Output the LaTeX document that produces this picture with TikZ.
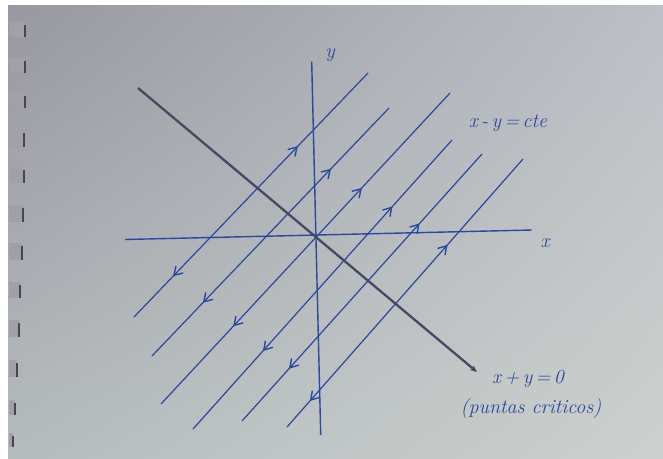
\documentclass[tikz,border=0pt]{standalone}
\usetikzlibrary{arrows.meta,decorations.markings,shadings}
\definecolor{ink}{RGB}{42,72,158}
\definecolor{darkink}{RGB}{72,72,100}
\definecolor{paperA}{RGB}{152,152,160}
\definecolor{paperB}{RGB}{188,192,198}
\definecolor{paperC}{RGB}{182,188,190}
\definecolor{paperD}{RGB}{204,209,206}
\definecolor{ringc}{RGB}{160,160,166}
\definecolor{ringedge}{RGB}{70,70,78}
\begin{document}
\begin{tikzpicture}[x=1pt,y=-1pt,
  trajline/.style={draw=ink,line width=1.2pt},
  axisline/.style={draw=ink,line width=1.4pt},
  critline/.style={draw=darkink,line width=2.3pt,-{Stealth[length=7pt,width=6pt]}},
  flow/.style 2 args={postaction={decorate},decoration={markings,
      mark=at position #1 with {\arrow[ink,line width=1.4pt]{Straight Barb[length=8pt,width=10pt]}},
      mark=at position #2 with {\arrowreversed[ink,line width=1.4pt]{Straight Barb[length=8pt,width=10pt]}}}},
  lab/.style={text=ink,font=\fontsize{20}{24}\selectfont\itshape,inner sep=0pt},
  ring/.style={fill=ringc,draw=none},
  ringside/.style={draw=ringedge,line width=1.6pt}]
\useasboundingbox (0,0) rectangle (663,458);
\fill[white] (0,0) rectangle (663,458);
\shade[upper left=paperA,upper right=paperB,lower left=paperC,lower right=paperD] (8,5) rectangle (663,458);
% spiral binding
\foreach \ya/\yb/\xa in {22/37/25,58/73/25,93/108/25,130/147/24,167/183/24,205/222/23,243/260/22,282/298/20,320/337/19,360/377/17,400/415/15,433/447/13}{
  \fill[ring] (9,\ya) rectangle (\xa,\yb);
  \draw[ringside] (\xa,\ya+3) -- (\xa,\yb);
}
% axes
\coordinate (xl) at (125,239.5);
\coordinate (xr) at (531.7,230);
\coordinate (yb) at (320.7,435);
\coordinate (yt) at (311.7,61.7);
\draw[axisline] (xl) -- (xr);
\draw[axisline] (yb) -- (yt);
% trajectories x-y=cte
\coordinate (b1) at (134,317);   \coordinate (t1) at (368,73);
\coordinate (b2) at (152,356);   \coordinate (t2) at (389,108);
\coordinate (b3) at (161,404);   \coordinate (t3) at (450,93);
\coordinate (b4) at (193,429);   \coordinate (t4) at (452,140);
\coordinate (b5) at (242,421);   \coordinate (t5) at (482,154);
\coordinate (b6) at (287,427);   \coordinate (t6) at (523,159);
\draw[trajline,flow={0.70}{0.167}] (b1) -- (t1);
\draw[trajline,flow={0.755}{0.215}] (b2) -- (t2);
\draw[trajline,flow={0.695}{0.25}] (b3) -- (t3);
\draw[trajline,flow={0.77}{0.27}] (b4) -- (t4);
\draw[trajline,flow={0.74}{0.196}] (b5) -- (t5);
\draw[trajline,flow={0.68}{0.097}] (b6) -- (t6);
% critical points line
\coordinate (d1) at (138,88);
\coordinate (d2) at (477,372);
\draw[critline] (d1) -- (d2);
% labels
\node[lab] (ylab) at (330,55) {y};
\node[lab] (xlab) at (545,243) {x};
\node[lab] (cte) at (508,123) {x\,-\,y\,=\,cte};
\node[lab] (eq0) at (528,379) {x\,+\,y\,=\,0};
\node[lab] (pc) at (531,409) {(puntas criticos)};
\end{tikzpicture}
\end{document}
